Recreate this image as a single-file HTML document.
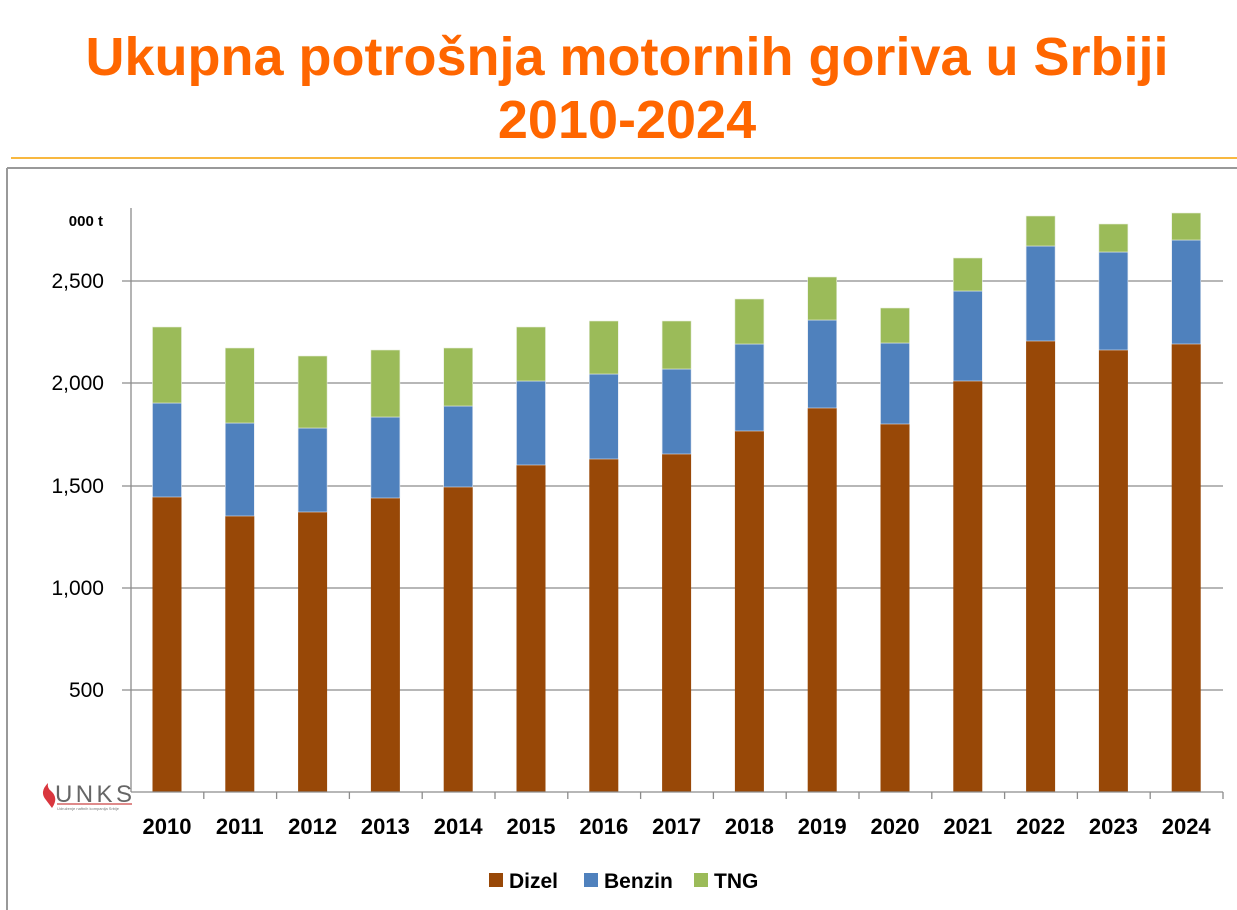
<!DOCTYPE html>
<html><head><meta charset="utf-8"><style>
body{margin:0;width:1237px;height:910px;background:#fff;overflow:hidden;font-family:"Liberation Sans",sans-serif}
</style></head><body>
<svg width="1237" height="910" xmlns="http://www.w3.org/2000/svg" style="position:absolute;left:0;top:0">
<text x="627" y="75" text-anchor="middle" font-family="Liberation Sans" font-weight="bold" font-size="54" fill="#ff6600">Ukupna potrošnja motornih goriva u Srbiji</text>
<text x="627" y="138" text-anchor="middle" font-family="Liberation Sans" font-weight="bold" font-size="54" fill="#ff6600">2010-2024</text>
<line x1="11" y1="158" x2="1237" y2="158" stroke="#f5a000" stroke-width="1.5"/>
<line x1="7" y1="168" x2="1237" y2="168" stroke="#999" stroke-width="2"/>
<line x1="7" y1="168" x2="7" y2="910" stroke="#999" stroke-width="2"/>
<g stroke="#8c8c8c" stroke-width="1.3">
<line x1="122" y1="281" x2="1223" y2="281"/>
<line x1="122" y1="383" x2="1223" y2="383"/>
<line x1="122" y1="486" x2="1223" y2="486"/>
<line x1="122" y1="588" x2="1223" y2="588"/>
<line x1="122" y1="690" x2="1223" y2="690"/>
<line x1="131" y1="208" x2="131" y2="792"/>
</g>
<g font-family="Liberation Sans" font-size="21" fill="#000" text-anchor="end">
<text x="104" y="288">2,500</text><text x="104" y="390">2,000</text><text x="104" y="493">1,500</text><text x="104" y="595">1,000</text><text x="104" y="697">500</text>
</g>
<text x="103" y="226" text-anchor="end" font-weight="bold" font-size="15">000 t</text>
<g id="bars"></g>
<line x1="131" y1="792" x2="1223" y2="792" stroke="#8c8c8c" stroke-width="1.3"/>
<g id="ticks" stroke="#8c8c8c" stroke-width="1.3"></g>
<g id="labels" font-family="Liberation Sans" font-weight="bold" font-size="22" text-anchor="middle"></g>
<path d="M48 783 Q39 792 46 800 L52 808 Q59 798 51 791 Q47 788 48 783Z" fill="#d9363e"/>
<text x="55" y="802" font-size="24" fill="#666" font-family="Liberation Sans" textLength="77">UNKS</text>
<line x1="57" y1="804" x2="132" y2="804" stroke="#c44" stroke-width="1.2"/>
<text x="57" y="810" font-size="4" fill="#777">Udruženje naftnih kompanija Srbije</text>
<g font-family="Liberation Sans" font-weight="bold" font-size="21">
<rect x="489" y="873" width="14" height="14" fill="#984807"/><text x="509" y="888">Dizel</text>
<rect x="584" y="873" width="14" height="14" fill="#4f81bd"/><text x="604" y="888">Benzin</text>
<rect x="694" y="873" width="14" height="14" fill="#9bbb59"/><text x="714" y="888">TNG</text>
</g>
</svg>
<script>
var d=[[497,403,327],[516,423,348],[512,428,356],[498,417,350],[487,406,348],[465,381,327],[459,374,321],[454,369,321],[431,344,299],[408,320,277],[424,343,308],[381,291,258],[341,246,216],[350,252,224],[344,240,213]];
var ns="http://www.w3.org/2000/svg",b=document.getElementById('bars'),t=document.getElementById('ticks'),l=document.getElementById('labels');
function el(p,n,a,tx){var e=document.createElementNS(ns,n);for(var k in a)e.setAttribute(k,a[k]);if(tx)e.textContent=tx;p.appendChild(e);}
d.forEach(function(v,i){var c=167+i*72.8,x=c-14.5;
el(b,'rect',{x:x,y:v[0],width:29,height:792-v[0],fill:'#984807'});
el(b,'rect',{x:x,y:v[1],width:29,height:v[0]-v[1],fill:'#4f81bd',stroke:'#dfe6f0','stroke-width':0.6});
el(b,'rect',{x:x,y:v[2],width:29,height:v[1]-v[2],fill:'#9bbb59',stroke:'#e6eddc','stroke-width':0.6});
el(t,'line',{x1:131+(i+1)*72.8,y1:792,x2:131+(i+1)*72.8,y2:799});
el(l,'text',{x:c,y:834},String(2010+i));});
</script>
</body></html>
